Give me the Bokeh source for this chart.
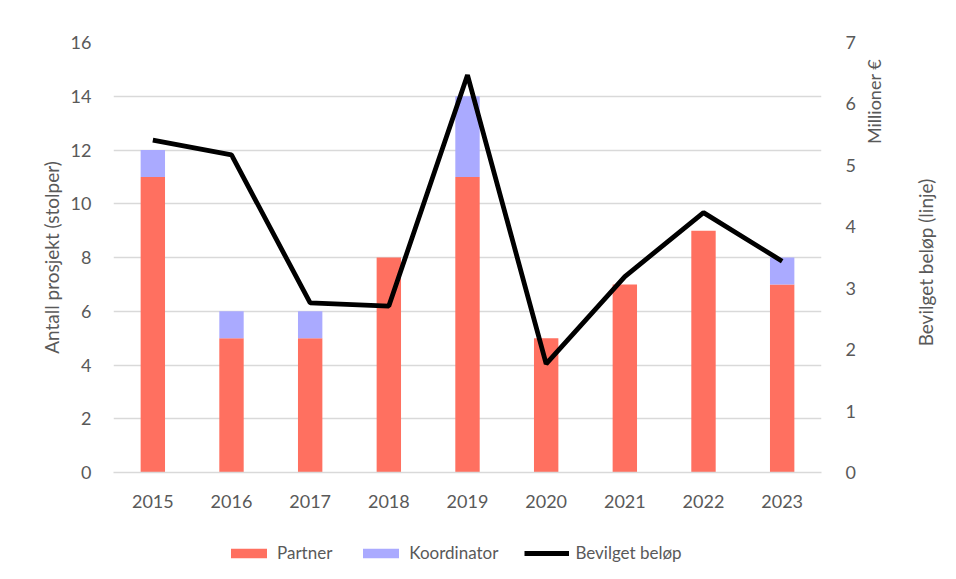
import math
from bokeh.plotting import figure
from bokeh.layouts import column, row
from bokeh.models import (Range1d, LinearAxis, Legend, LegendItem, SingleIntervalTicker, Label)
from bokeh.embed import file_html
from bokeh.resources import INLINE

years = ["2015", "2016", "2017", "2018", "2019", "2020", "2021", "2022", "2023"]
partner = [11, 5, 5, 8, 11, 5, 7, 9, 7]
koordinator = [1, 1, 1, 0, 3, 0, 0, 0, 1]
belop = [5.41, 5.17, 2.76, 2.71, 6.47, 1.77, 3.19, 4.23, 3.44]

FONT = "Lato"
GREY = "#595959"
C_PARTNER = "#FF7060"
C_KOORD = "#AAAAFF"

p = figure(x_range=years, y_range=Range1d(0, 16), width=860, height=510,
           output_backend="svg", toolbar_location=None,
           min_border_left=113, min_border_right=39, min_border_top=42, min_border_bottom=36)
p.extra_y_ranges = {"right": Range1d(0, 7)}

src = dict(years=years, Partner=partner, Koordinator=koordinator)
bars = p.vbar_stack(["Partner", "Koordinator"], x="years", width=0.31, source=src,
                    color=[C_PARTNER, C_KOORD], line_color=None)
ln = p.line(x=years, y=belop, y_range_name="right", line_color="black", line_width=4.8)

p.outline_line_color = None
p.xgrid.grid_line_color = None
p.ygrid.grid_line_color = "#D9D9D9"
p.ygrid.grid_line_width = 1.3
p.yaxis.ticker = SingleIntervalTicker(interval=2)


def style(ax):
    ax.axis_line_color = None
    ax.major_tick_line_color = None
    ax.minor_tick_line_color = None
    ax.major_label_text_font = FONT
    ax.major_label_text_font_size = "18px"
    ax.major_label_text_color = GREY
    ax.axis_label_text_font = FONT
    ax.axis_label_text_font_size = "19px"
    ax.axis_label_text_font_style = "normal"
    ax.axis_label_text_color = GREY


style(p.yaxis[0])
style(p.xaxis[0])
p.yaxis.axis_label = "Antall prosjekt (stolper)"
p.yaxis.major_label_standoff = 16
p.yaxis.axis_label_standoff = 5
p.xaxis.axis_line_color = "#D9D9D9"
p.xaxis.axis_line_width = 1.3
p.xaxis.major_label_standoff = 16

ra = LinearAxis(y_range_name="right", ticker=SingleIntervalTicker(interval=1))
style(ra)
ra.major_label_standoff = 18
p.add_layout(ra, "right")

# right-hand strip with the two vertical titles
side = figure(width=88, height=510, x_range=Range1d(0, 88), y_range=Range1d(0, 510),
              output_backend="svg", toolbar_location=None,
              x_axis_location=None, y_axis_location=None,
              min_border_left=0, min_border_right=0, min_border_top=0, min_border_bottom=0)
side.grid.visible = False
side.outline_line_color = None
side.add_layout(Label(x=13, y=440, text="Millioner €", angle=math.pi / 2,
                      text_align="center", text_baseline="middle", text_font=FONT,
                      text_font_size="18px", text_color=GREY))
side.add_layout(Label(x=65, y=249, text="Bevilget beløp (linje)", angle=math.pi / 2,
                      text_align="center", text_baseline="middle", text_font=FONT,
                      text_font_size="19px", text_color=GREY))

# legend strip below
lg = figure(width=948, height=61, x_range=Range1d(0, 1), y_range=Range1d(0, 1),
            output_backend="svg", toolbar_location=None,
            x_axis_location=None, y_axis_location=None,
            min_border_left=0, min_border_right=0, min_border_top=0, min_border_bottom=0)
lg.grid.visible = False
lg.outline_line_color = None
r1 = lg.vbar(x=[5], top=[1], width=0.1, color=C_PARTNER, line_color=None)
r2 = lg.vbar(x=[5], top=[1], width=0.1, color=C_KOORD, line_color=None)
r3 = lg.line(x=[5, 6], y=[0.5, 0.5], line_color="black", line_width=4.8)

legend = Legend(items=[LegendItem(label="Partner", renderers=[r1]),
                       LegendItem(label="Koordinator", renderers=[r2]),
                       LegendItem(label="Bevilget beløp", renderers=[r3])],
                orientation="horizontal", location=(226, 8),
                glyph_width=45, glyph_height=12, label_standoff=6, spacing=26,
                label_text_font=FONT, label_text_font_size="17px", label_text_color=GREY,
                border_line_color=None, background_fill_alpha=0, margin=0, padding=4)
lg.add_layout(legend, "center")

layout = column(row(p, side, spacing=0), lg, spacing=0)
open("out.html", "w").write(file_html(layout, INLINE))
